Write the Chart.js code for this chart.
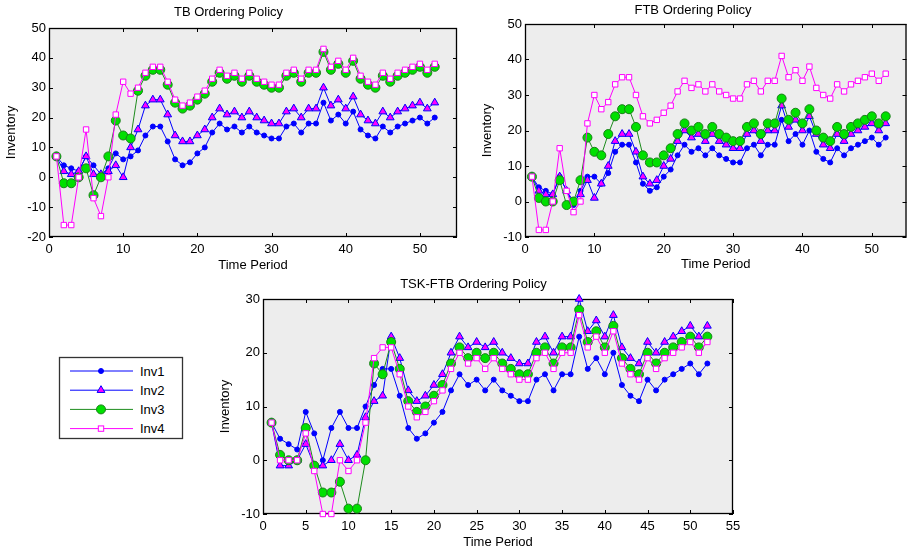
<!DOCTYPE html>
<html>
<head>
<meta charset="utf-8">
<script src="https://cdn.jsdelivr.net/npm/chart.js@4.4.0/dist/chart.umd.min.js"></script>
<style>
body { margin:0; background:#fff; width:912px; height:554px; position:relative; overflow:hidden; font-family:"Liberation Sans", Arial, sans-serif; }
canvas, svg { position:absolute; }
</style>
</head>
<body>
<canvas id="tbChart" width="470" height="273" style="left:0;top:0"></canvas>
<canvas id="ftbChart" width="436" height="272" style="left:476px;top:0"></canvas>
<canvas id="tskChart" width="540" height="280" style="left:214px;top:270px"></canvas>
<svg id="legendBox" width="126" height="84" style="left:58px;top:356px"></svg>
<script>
// ===== Data =====
const periods = [1,2,3,4,5,6,7,8,9,10,11,12,13,14,15,16,17,18,19,20,21,22,23,24,25,26,
                 27,28,29,30,31,32,33,34,35,36,37,38,39,40,41,42,43,44,45,46,47,48,49,50,51,52];
const seriesNames = ['Inv1', 'Inv2', 'Inv3', 'Inv4'];

// TB Ordering Policy
const tbInv1 = [7,4,3,2,7,4,1,3,8,6, 7,9,14,17,17,12,6,4,5,8, 10,15,18,16,17,15,17,15,14,13,
                13,17,18,15,18,18,25,19,21,18, 22,16,14,13,17,15,17,18,19,20, 18,20];
const tbInv2 = [7,2,1,2,7,1,1,2,4,0, 10,16,24,26,26,21,14,12,12,14, 16,20,23,21,22,20,22,20,19,18,
                18,22,23,20,23,23,30,24,26,23, 27,21,19,18,22,20,22,23,24,25, 23,25];
const tbInv3 = [7,-2,-2,0,3,-6,0,7,19,14, 13,29,34,36,36,31,25,23,24,26, 28,32,35,33,34,32,34,32,31,30,
                30,34,35,32,35,35,42,36,38,35, 39,33,31,30,34,32,34,35,36,37, 35,37];
const tbInv4 = [7,-16,-16,0,16,-7,-13,0,21,32, 28,30,35,37,37,32,26,24,25,27, 29,33,36,34,35,33,35,33,32,31,
                31,35,36,33,36,36,43,37,39,36, 40,34,32,31,35,33,35,36,37,38, 36,38];

// FTB Ordering Policy
const ftbInv1 = [7,4,3,2,7,3,-1,3,7,7, 5,8,14,16,16,11,5,3,4,7, 9,13,16,14,15,13,15,13,12,11,
                 11,15,16,13,16,16,23,17,19,16, 20,14,12,11,15,13,15,16,17,18, 16,18];
const ftbInv2 = [7,3,2,2,7,3,0,2,6,1, 5,10,17,19,19,14,7,5,6,10, 12,17,20,18,19,17,19,17,16,15,
                 15,19,20,17,20,20,27,21,23,20, 24,19,16,15,19,17,19,20,21,22, 20,22];
const ftbInv3 = [7,1,0,0,6,-1,0,6,18,14, 13,19,24,26,26,21,13,11,11,13, 15,19,22,20,21,19,21,19,18,17,
                 17,21,22,19,22,22,29,23,25,22, 26,20,18,17,21,19,21,22,23,24, 22,24];
const ftbInv4 = [7,-8,-8,0,15,3,-3,0,22,30, 26,28,33,35,35,30,24,22,23,25, 27,31,34,32,33,31,33,31,30,29,
                 29,33,34,31,34,34,41,35,37,34, 38,32,30,29,33,31,33,34,35,36, 34,36];

// TSK-FTB Ordering Policy
const tskInv1 = [7,4,3,2,9,5,0,6,9,6, 6,10,14,17,17,12,6,4,5,7, 9,13,16,14,15,13,15,13,12,11,
                 11,15,16,13,16,16,23,17,19,16, 20,14,12,11,15,13,15,16,17,18, 16,18];
const tskInv2 = [7,-1,-1,0,3,-1,-1,0,3,0, 1,8,11,12,23,19,13,11,12,14, 16,20,23,21,22,21,22,20,19,18,
                 18,22,23,20,23,23,30,24,26,23, 27,21,19,18,22,20,22,23,24,25, 23,25];
const tskInv3 = [7,1,0,0,6,-1,-6,-6,-4,-9, -9,0,18,16,22,17,11,9,10,12, 14,18,21,19,20,19,20,18,17,16,
                 16,20,21,18,21,21,28,22,24,21, 25,19,17,16,20,18,20,21,22,23, 21,23];
const tskInv4 = [7,0,0,0,5,-2,-10,-10,0,-2, 0,7,19,21,21,16,10,8,9,11, 13,17,20,18,19,17,19,17,16,15,
                 15,19,20,17,20,20,27,21,23,20, 24,18,16,15,19,17,19,20,21,22, 20,22];

// ===== Styles =====
const FONT = { family: '"Liberation Sans", Arial, sans-serif', size: 13, weight: 'normal' };
const styles = [
    { line: '#0000ff', fill: '#0000ff', edge: '#0000ff', shape: 'circle',   r: 2.5 },
    { line: '#0000ff', fill: '#ff00ff', edge: '#0000ff', shape: 'triangle', r: 4.5 },
    { line: '#1e8c1e', fill: '#00e000', edge: '#1a7f1a', shape: 'circle',   r: 4.5 },
    { line: '#ff00ff', fill: '#ffffff', edge: '#ff00ff', shape: 'rect',     r: 3.8 }
];

// vẽ nền xám, khung và tick hướng vào trong (kiểu MATLAB)
const matlabAxes = {
    id: 'matlabAxes',
    beforeDatasetsDraw(chart) {
        const { ctx, chartArea: a, scales } = chart;
        ctx.save();
        ctx.fillStyle = '#ededed';
        ctx.fillRect(a.left, a.top, a.right - a.left, a.bottom - a.top);
        ctx.strokeStyle = '#000';
        ctx.lineWidth = 1;
        ctx.beginPath();
        scales.x.ticks.forEach(t => {
            let px = Math.round(scales.x.getPixelForValue(t.value)) + 0.5;
            ctx.moveTo(px, a.bottom); ctx.lineTo(px, a.bottom - 4);
            ctx.moveTo(px, a.top); ctx.lineTo(px, a.top + 4);
        });
        scales.y.ticks.forEach(t => {
            let py = Math.round(scales.y.getPixelForValue(t.value)) + 0.5;
            ctx.moveTo(a.left, py); ctx.lineTo(a.left + 4, py);
            ctx.moveTo(a.right, py); ctx.lineTo(a.right - 4, py);
        });
        ctx.stroke();
        ctx.lineWidth = 1.3;
        ctx.strokeRect(a.left + 0.5, a.top + 0.5, a.right - a.left - 1, a.bottom - a.top - 1);
        ctx.restore();
    }
};

function makeChart(id, title, titlePad, lists, yMin, yMax, xStep, xHeight, padRight) {
    let datasets = lists.map((vals, i) => ({
        label: seriesNames[i],
        data: periods.map((t, k) => ({ x: t, y: vals[k] })),
        borderColor: styles[i].line,
        borderWidth: 1,
        pointStyle: styles[i].shape,
        pointRadius: styles[i].r,
        pointBackgroundColor: styles[i].fill,
        pointBorderColor: styles[i].edge,
        pointBorderWidth: 1,
        tension: 0,
        clip: false,
        order: 4 - i
    }));
    return new Chart(document.getElementById(id), {
        type: 'line',
        data: { datasets: datasets },
        options: {
            responsive: false,
            animation: false,
            layout: { padding: { right: padRight } },
            plugins: {
                legend: { display: false },
                tooltip: { enabled: false },
                title: { display: true, text: title, color: '#000', font: FONT, padding: titlePad }
            },
            scales: {
                x: {
                    type: 'linear', min: 0, max: 55,
                    grid: { display: false, drawTicks: false }, border: { display: false },
                    ticks: { stepSize: xStep, includeBounds: false, color: '#000', font: FONT, padding: 5, maxRotation: 0, autoSkip: false },
                    title: { display: true, text: 'Time Period', color: '#000', font: FONT, padding: { top: 0, bottom: 0 } },
                    afterFit(s) { s.height = xHeight; }
                },
                y: {
                    min: yMin, max: yMax,
                    grid: { display: false, drawTicks: false }, border: { display: false },
                    ticks: { stepSize: 10, color: '#000', font: FONT, padding: 3 },
                    title: { display: true, text: 'Inventory', color: '#000', font: FONT, padding: { top: 4, bottom: 0 } },
                    afterFit(s) { s.width = 49; }
                }
            }
        },
        plugins: [matlabAxes]
    });
}

makeChart('tbChart', 'TB Ordering Policy', { top: 5, bottom: 7.4 },
    [tbInv1, tbInv2, tbInv3, tbInv4], -20, 50, 10, 36, 13);
makeChart('ftbChart', 'FTB Ordering Policy', { top: 2.2, bottom: 6.2 },
    [ftbInv1, ftbInv2, ftbInv3, ftbInv4], -10, 50, 10, 35, 2);
makeChart('tskChart', 'TSK-FTB Ordering Policy', { top: 6.2, bottom: 7.2 },
    [tskInv1, tskInv2, tskInv3, tskInv4], -10, 30, 5, 36, 21);

// ===== Legend =====
function drawLegend() {
    let svg = document.getElementById('legendBox');
    let html = '<rect x="1.5" y="1.5" width="123" height="81" fill="#fff" stroke="#333" stroke-width="1.3"/>';
    seriesNames.forEach((name, i) => {
        let st = styles[i];
        let y = 15 + i * 19.2;
        let mx = 43;
        html += `<line x1="12" y1="${y}" x2="75" y2="${y}" stroke="${st.line}" stroke-width="1"/>`;
        if (st.shape === 'circle') {
            html += `<circle cx="${mx}" cy="${y}" r="${st.r}" fill="${st.fill}" stroke="${st.edge}"/>`;
        } else if (st.shape === 'triangle') {
            let r = st.r;
            html += `<polygon points="${mx},${y - r} ${mx + r * 0.866},${y + r / 2} ${mx - r * 0.866},${y + r / 2}" fill="${st.fill}" stroke="${st.edge}"/>`;
        } else {
            let s = st.r * Math.SQRT1_2;
            html += `<rect x="${mx - s}" y="${y - s}" width="${2 * s}" height="${2 * s}" fill="${st.fill}" stroke="${st.edge}"/>`;
        }
        html += `<text x="82" y="${y}" dominant-baseline="central" font-family="Liberation Sans, Arial, sans-serif" font-size="13" fill="#000">${name}</text>`;
    });
    svg.innerHTML = html;
}
drawLegend();
</script>
</body>
</html>
